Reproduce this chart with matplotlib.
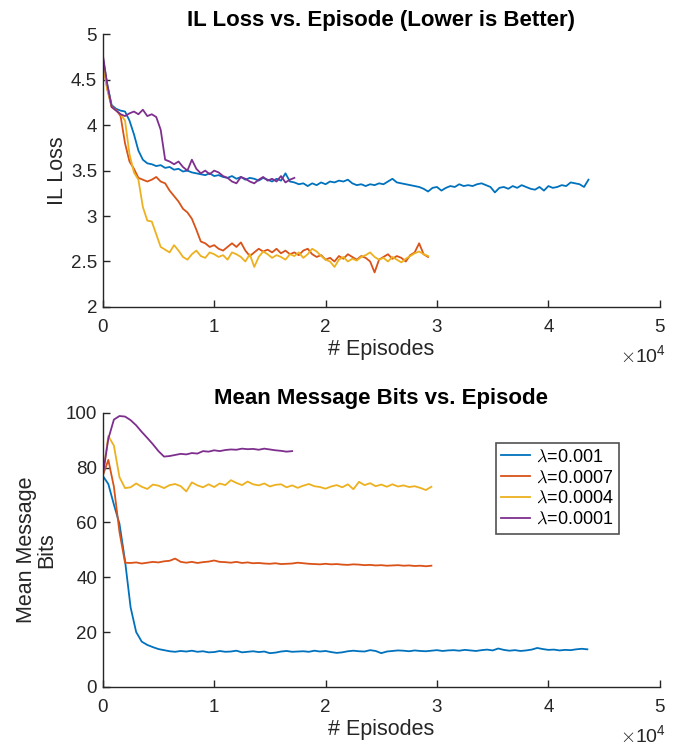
import numpy as np
import matplotlib
matplotlib.use('Agg')
import matplotlib.pyplot as plt

plt.rcParams['font.family'] = ['Liberation Sans', 'DejaVu Sans']
plt.rcParams['mathtext.fontset'] = 'cm'

# series labels
labels = [r'$\lambda$=0.001', r'$\lambda$=0.0007', r'$\lambda$=0.0004', r'$\lambda$=0.0001']
colors = ['#0072BD', '#D95319', '#EDB120', '#7E2F8E']

# IL loss, sampled every 400 episodes
il_step = 400
il_001 = [4.75, 4.45, 4.22, 4.18, 4.16, 4.15, 4.05, 3.90, 3.72, 3.62, 3.58, 3.57, 3.55, 3.56, 3.53,
          3.54, 3.51, 3.52, 3.49, 3.50, 3.48, 3.47, 3.46, 3.45, 3.47, 3.44, 3.45, 3.43, 3.42, 3.44,
          3.41, 3.43, 3.40, 3.42, 3.41, 3.39, 3.42, 3.40, 3.38, 3.41, 3.39, 3.47, 3.38, 3.37, 3.35,
          3.36, 3.33, 3.36, 3.34, 3.37, 3.35, 3.38, 3.37, 3.39, 3.38, 3.40, 3.36, 3.34, 3.35, 3.33,
          3.35, 3.34, 3.36, 3.35, 3.38, 3.41, 3.37, 3.36, 3.35, 3.34, 3.33, 3.32, 3.30, 3.27, 3.31,
          3.32, 3.28, 3.31, 3.33, 3.32, 3.35, 3.33, 3.34, 3.33, 3.35, 3.36, 3.34, 3.32, 3.26, 3.31,
          3.32, 3.30, 3.33, 3.31, 3.34, 3.32, 3.30, 3.29, 3.32, 3.28, 3.33, 3.31, 3.32, 3.34, 3.33,
          3.37, 3.36, 3.35, 3.32, 3.40]
il_0007 = [4.70, 4.40, 4.20, 4.17, 4.10, 3.80, 3.60, 3.52, 3.42, 3.40, 3.38, 3.40, 3.43, 3.38, 3.36,
           3.28, 3.22, 3.16, 3.08, 3.04, 2.97, 2.85, 2.72, 2.70, 2.66, 2.68, 2.64, 2.62, 2.66, 2.70,
           2.66, 2.71, 2.62, 2.56, 2.60, 2.64, 2.61, 2.63, 2.60, 2.64, 2.59, 2.62, 2.58, 2.60, 2.57,
           2.62, 2.64, 2.58, 2.55, 2.57, 2.52, 2.54, 2.50, 2.56, 2.53, 2.58, 2.55, 2.52, 2.56, 2.54,
           2.50, 2.38, 2.52, 2.55, 2.58, 2.53, 2.56, 2.54, 2.50, 2.57, 2.60, 2.70, 2.58, 2.55]
il_0004 = [4.70, 4.40, 4.20, 4.16, 4.12, 4.05, 3.68, 3.48, 3.40, 3.10, 2.95, 2.94, 2.80, 2.66, 2.63,
           2.60, 2.68, 2.62, 2.55, 2.52, 2.58, 2.62, 2.56, 2.54, 2.60, 2.58, 2.55, 2.57, 2.52, 2.60,
           2.58, 2.55, 2.50, 2.58, 2.44, 2.55, 2.61, 2.58, 2.54, 2.57, 2.55, 2.52, 2.58, 2.56, 2.60,
           2.54, 2.58, 2.64, 2.61, 2.56, 2.52, 2.50, 2.44, 2.52, 2.55, 2.50, 2.53, 2.51, 2.55, 2.57,
           2.60, 2.55, 2.52, 2.54, 2.50, 2.55, 2.52, 2.49, 2.53, 2.56, 2.59, 2.61, 2.58, 2.56]
il_0001 = [4.78, 4.45, 4.20, 4.16, 4.12, 4.10, 4.13, 4.15, 4.12, 4.17, 4.10, 4.12, 4.09, 3.95, 3.62,
           3.60, 3.57, 3.60, 3.54, 3.50, 3.62, 3.52, 3.47, 3.50, 3.46, 3.50, 3.48, 3.44, 3.42, 3.38,
           3.36, 3.43, 3.41, 3.38, 3.36, 3.40, 3.43, 3.39, 3.41, 3.38, 3.44, 3.37, 3.40, 3.42]

# mean message bits, sampled every 500 episodes
bits_step = 500
bits_001 = [77, 74, 66.5, 59.5, 46, 29, 20, 16.5, 15.3, 14.5, 13.8, 13.4, 13.0, 12.8, 13.1, 12.9,
            13.2, 12.8, 13.0, 12.6, 12.7, 13.1, 12.8, 12.9, 13.2, 12.6, 12.8, 13.0, 12.7, 12.9, 12.3,
            12.5, 12.9, 13.1, 12.8, 12.9, 13.0, 12.8, 13.2, 12.9, 13.1, 12.7, 12.4, 12.6, 13.0, 13.2,
            13.0, 12.9, 13.4, 13.1, 12.3, 12.9, 13.1, 13.3, 13.2, 13.0, 13.3, 13.1, 13.0, 13.2, 13.4,
            13.1, 13.3, 13.4, 13.2, 13.5, 13.3, 13.1, 13.4, 13.6, 13.3, 14.0, 13.5, 13.2, 13.4, 13.1,
            13.3, 13.6, 14.2, 13.8, 13.5, 13.6, 13.3, 13.5, 13.4, 13.7, 13.9, 13.7]
bits_0007 = [77, 82.8, 73, 56.5, 45.3, 45.2, 45.4, 45.0, 45.3, 45.6, 45.4, 45.8, 46.0, 46.8, 45.6,
             45.3, 45.6, 45.2, 45.5, 45.7, 46.1, 45.6, 45.5, 45.3, 45.6, 45.2, 45.4, 45.1, 45.2, 45.0,
             44.9, 45.1, 44.8, 44.9, 45.0, 45.3, 45.1, 44.9, 44.8, 44.7, 44.9, 44.7, 44.8, 44.6, 44.5,
             44.7, 44.6, 44.4, 44.5, 44.3, 44.4, 44.2, 44.3, 44.4, 44.2, 44.3, 44.1, 44.2, 44.0, 44.2]
bits_0004 = [77, 91.5, 88, 76.5, 72.5, 72.8, 74.2, 73.0, 72.2, 73.8, 73.4, 72.5, 73.6, 74.0, 73.2,
             71.3, 74.6, 73.5, 72.8, 73.9, 72.9, 74.2, 73.6, 75.4, 74.4, 73.6, 74.9, 73.9, 73.5, 74.2,
             73.1, 73.7, 73.9, 72.8, 73.5, 72.6, 73.4, 74.0, 73.2, 72.9, 72.3, 73.1, 73.6, 72.8, 73.9,
             72.1, 74.8, 73.6, 74.3, 73.2, 73.8, 73.0, 73.9, 73.1, 73.5, 72.9, 73.2, 72.6, 71.8, 73.0]
bits_0001 = [77, 90.5, 97.5, 98.8, 98.6, 97.3, 95.4, 93.0, 90.8, 88.5, 86.0, 84.0, 84.2, 84.6, 85.0,
             84.8, 85.3, 85.1, 86.0, 85.8, 86.3, 86.0, 86.4, 86.6, 86.5, 86.9, 86.7, 86.8, 86.5, 86.9,
             86.6, 86.3, 86.1, 85.8, 86.0]

fig = plt.figure(figsize=(6.76, 7.45), dpi=100)
ax1 = fig.add_axes([0.152, 0.588, 0.824, 0.366])
ax2 = fig.add_axes([0.152, 0.078, 0.824, 0.368])

for vals, c, lab in zip([il_001, il_0007, il_0004, il_0001], colors, labels):
    ax1.plot(np.arange(len(vals)) * il_step, vals, color=c, lw=1.3, label=lab)
for vals, c, lab in zip([bits_001, bits_0007, bits_0004, bits_0001], colors, labels):
    ax2.plot(np.arange(len(vals)) * bits_step, vals, color=c, lw=1.3, label=lab)

dark = '#262626'
for ax in (ax1, ax2):
    ax.set_xlim(0, 50000)
    ax.set_xticks([0, 10000, 20000, 30000, 40000, 50000])
    ax.set_xticklabels(['0', '1', '2', '3', '4', '5'])
    for s in ('top', 'right'):
        ax.spines[s].set_visible(False)
    for s in ('left', 'bottom'):
        ax.spines[s].set_color(dark)
        ax.spines[s].set_linewidth(1.0)
    ax.tick_params(direction='in', length=5, width=1.0, colors=dark, labelsize=13.5)
    ax.tick_params(axis='x', pad=9)
    ax.tick_params(axis='y', pad=4)
    ax.set_xlabel('# Episodes', fontsize=15.5, color=dark, labelpad=2)
    ax.text(1.012, -0.175, r'$\times\mathregular{10^4}$', transform=ax.transAxes,
            ha='right', va='center', fontsize=14, color=dark)

ax1.set_ylim(2, 5)
ax1.set_yticks([2, 2.5, 3, 3.5, 4, 4.5, 5])
ax1.set_yticklabels(['2', '2.5', '3', '3.5', '4', '4.5', '5'])
ax1.set_ylabel('IL Loss', fontsize=15.5, color=dark, labelpad=2)
ax1.set_title('IL Loss vs. Episode (Lower is Better)', fontsize=16, fontweight='bold', pad=6)

ax2.set_ylim(0, 100)
ax2.set_yticks([0, 20, 40, 60, 80, 100])
ax2.set_ylabel('Mean Message\nBits', fontsize=15.5, color=dark, labelpad=6, linespacing=0.95)
ax2.set_title('Mean Message Bits vs. Episode', fontsize=16, fontweight='bold', pad=6)

leg = ax2.legend(loc='upper left', bbox_to_anchor=(0.706, 0.89), fontsize=13, frameon=True,
                 fancybox=False, edgecolor=dark, handlelength=1.6, handletextpad=0.3,
                 borderpad=0.3, labelspacing=0.22, borderaxespad=0)
leg.get_frame().set_linewidth(1.2)

fig.savefig('out.png', dpi=100)
